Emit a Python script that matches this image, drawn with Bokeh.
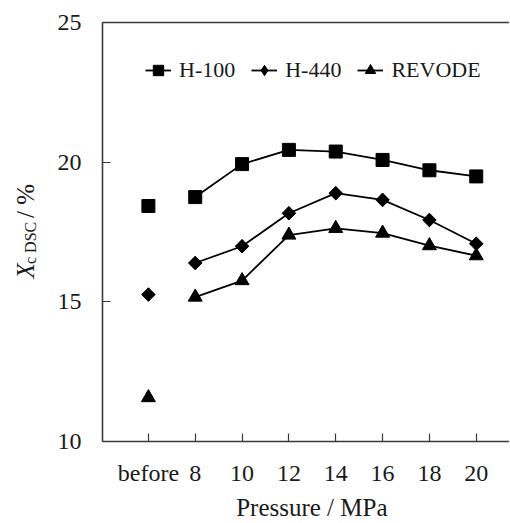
import math
from bokeh.plotting import figure
from bokeh.layouts import row, column
from bokeh.models import (Range1d, FixedTicker, LinearAxis, Legend, LegendItem)
from bokeh.core.properties import value
from bokeh.embed import file_html
from bokeh.resources import INLINE

# ---- data ----
categories = ["before", "8", "10", "12", "14", "16", "18", "20"]
h100 = [18.43, 18.75, 19.93, 20.44, 20.38, 20.08, 19.71, 19.49]
h440 = [15.26, 16.39, 16.99, 18.17, 18.89, 18.65, 17.93, 17.08]
revode = [11.57, 15.17, 15.76, 17.39, 17.63, 17.46, 17.01, 16.65]
series_names = ["H-100", "H-440", "REVODE"]
y_ticks = [10, 15, 20, 25]
x_title = "Pressure / MPa"
y_title_parts = ["X", "c DSC", "/ %"]

FONT = "Liberation Serif"
INK = "#1a1a1a"
AX = "#3a3a3a"

xs = list(range(len(categories)))
xr = Range1d(-0.98, 7.71)
yr = Range1d(10, 25)

TOP, BOT, H_MAIN = 22, 53, 494

# ---- main figure ----
p = figure(width=464, height=H_MAIN, output_backend="svg", toolbar_location=None,
           x_range=xr, y_range=yr,
           min_border_left=57, min_border_right=0, min_border_top=TOP,
           min_border_bottom=BOT, x_axis_location=None, y_axis_location=None)
p.outline_line_color = None
p.grid.visible = False

xax = LinearAxis(ticker=FixedTicker(ticks=xs),
                 major_label_overrides={i: c for i, c in enumerate(categories)})
yax = LinearAxis(ticker=FixedTicker(ticks=y_ticks))
for ax in (xax, yax):
    ax.axis_line_color = AX
    ax.axis_line_width = 1.6
    ax.major_tick_in = 8
    ax.major_tick_out = 0
    ax.major_tick_line_color = AX
    ax.major_tick_line_width = 1.2
    ax.minor_tick_line_color = None
    ax.major_label_text_font = FONT
    ax.major_label_text_font_size = "24px"
    ax.major_label_text_color = INK
xax.major_label_standoff = 18
yax.major_label_standoff = 21
p.add_layout(xax, "below")
p.add_layout(yax, "left")

top = LinearAxis(ticker=FixedTicker(ticks=[]))
top.axis_line_color = AX
top.axis_line_width = 1.6
top.major_tick_line_color = None
top.minor_tick_line_color = None
top.major_label_text_font_size = "0px"
p.add_layout(top, "above")

items = []
# H-100: squares
ln = p.line(xs[1:], h100[1:], line_color="black", line_width=1.8)
sc = p.scatter(xs, h100, marker="square", size=13, fill_color="black", line_color="black")
items.append(LegendItem(label=series_names[0], renderers=[ln, sc]))
# H-440: diamonds (Bokeh diamond for the key, hidden under rotated squares on the plot)
ln = p.line(xs[1:], h440[1:], line_color="black", line_width=1.8)
key = p.scatter(xs, h440, marker="diamond", size=13, fill_color="black", line_color="black")
p.scatter(xs, h440, marker="square", size=9.6, angle=math.pi / 4,
          fill_color="black", line_color="black")
items.append(LegendItem(label=series_names[1], renderers=[ln, key]))
# REVODE: triangles
ln = p.line(xs[1:], revode[1:], line_color="black", line_width=1.8)
sc = p.scatter(xs, revode, marker="triangle", size=14, fill_color="black", line_color="black")
items.append(LegendItem(label=series_names[2], renderers=[ln, sc]))

legend = Legend(items=items, orientation="horizontal", location=(43, 356),
                border_line_color=None, background_fill_alpha=0,
                label_text_font=FONT, label_text_font_size="22px",
                label_text_color=INK, glyph_width=26, glyph_height=30,
                label_standoff=8, spacing=16, padding=0, margin=0)
p.add_layout(legend, "center")

# ---- narrow side figure holding the rotated y-axis title (frame aligned with p) ----
lab = figure(width=45, height=H_MAIN, output_backend="svg", toolbar_location=None,
             x_range=Range1d(0, 45), y_range=yr, min_border=0,
             min_border_top=TOP, min_border_bottom=BOT,
             x_axis_location=None, y_axis_location=None)
lab.outline_line_color = None
lab.grid.visible = False
lab_specs = [  # centre (x px, y in value units), font size, style
    (25, 16.11, "25px", "italic"),
    (30, 17.11, "16px", "normal"),
    (25, 18.61, "25px", "normal"),
]
for txt, (lx, ly, fs, st) in zip(y_title_parts, lab_specs):
    lab.text(x=[lx], y=[ly], text=[txt], angle=math.pi / 2,
             text_align="center", text_baseline="middle",
             text_font=value(FONT), text_font_size=value(fs),
             text_font_style=st, text_color=INK)

# ---- strip below holding the x-axis title (frame aligned with p horizontally) ----
H_X = 522 - H_MAIN
xlab = figure(width=509, height=H_X, output_backend="svg", toolbar_location=None,
              x_range=xr, y_range=Range1d(0, H_X), min_border=0,
              min_border_left=45 + 57, min_border_right=0,
              x_axis_location=None, y_axis_location=None)
xlab.outline_line_color = None
xlab.grid.visible = False
xlab.text(x=[3.49], y=[15], text=[x_title], text_align="center", text_baseline="middle",
          text_font=value(FONT), text_font_size=value("25px"), text_color=INK)

layout = column(row(lab, p), xlab)
open("out.html", "w").write(file_html(layout, INLINE))
